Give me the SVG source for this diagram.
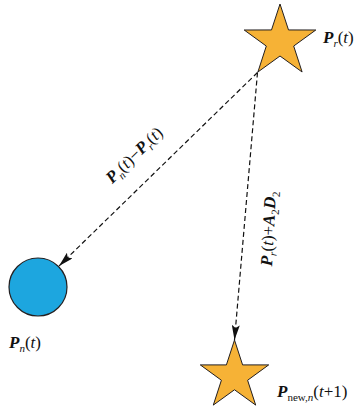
<svg xmlns="http://www.w3.org/2000/svg" width="354" height="411" viewBox="0 0 354 411">
<defs>
<style>
.star{fill:#F6B236;stroke:#231F20;stroke-width:1;stroke-linejoin:miter}
.node{fill:#1DA6DF;stroke:#231F20;stroke-width:1.2}
.conn{fill:none;stroke:#111;stroke-width:1.2;stroke-dasharray:5 3}
.lbl{font-family:"Liberation Serif","Times New Roman",serif;font-size:17px;fill:#111}
.b{font-weight:bold;font-style:italic}
.i{font-style:italic}
.s{font-size:11px}
</style>
<marker id="arr" markerUnits="userSpaceOnUse" markerWidth="16" markerHeight="8" refX="15" refY="4" orient="auto">
<path d="M0,0 L15,4 L0,8 L3,4 Z" fill="#111"/>
</marker>
</defs>
<g id="connectors">
<line class="conn" x1="257.5" y1="72.5" x2="59" y2="266" marker-end="url(#arr)"/>
<line class="conn" x1="257.5" y1="72.5" x2="234.5" y2="340" marker-end="url(#arr)"/>
</g>
<g id="star-pr">
<polygon class="star" points="280,4 288.5,29.95 315.8,30 293.7,46.05 302.1,72 280,56 257.9,72 266.3,46.05 244.2,30 271.5,29.95"/>
<text class="lbl" x="323" y="43"><tspan class="b">P</tspan><tspan class="i s" dy="4">r</tspan><tspan dy="-4">(</tspan><tspan class="i">t</tspan>)</text>
</g>
<g id="circle-pn">
<circle class="node" cx="38" cy="287" r="29"/>
<text class="lbl" x="9" y="348"><tspan class="b">P</tspan><tspan class="i s" dy="4">n</tspan><tspan dy="-4">(</tspan><tspan class="i">t</tspan>)</text>
</g>
<g id="star-pnew">
<polygon class="star" points="234.5,340 242.6,364.9 268.7,364.9 247.6,380.25 255.7,405.1 234.5,389.75 213.3,405.1 221.4,380.25 200.3,364.9 226.4,364.9"/>
<text class="lbl" x="277" y="397"><tspan class="b">P</tspan><tspan class="s" dy="4">new,</tspan><tspan class="i s">n</tspan><tspan dy="-4">(</tspan><tspan class="i">t</tspan>+1)</text>
</g>
<g id="labels">
<text class="lbl" text-anchor="middle" transform="translate(138,159) rotate(-44.5)"><tspan class="b">P</tspan><tspan class="i s" dy="4">n</tspan><tspan dy="-4">(</tspan><tspan class="i">t</tspan>)−<tspan class="b">P</tspan><tspan class="i s" dy="4">r</tspan><tspan dy="-4">(</tspan><tspan class="i">t</tspan>)</text>
<text class="lbl" text-anchor="middle" transform="translate(274,229) rotate(-87)"><tspan class="b">P</tspan><tspan class="i s" dy="4">r</tspan><tspan dy="-4">(</tspan><tspan class="i">t</tspan>)+<tspan class="b">A</tspan><tspan class="s" dy="4">2</tspan><tspan class="b" dy="-4">D</tspan><tspan class="s" dy="4">2</tspan></text>
</g>
</svg>
